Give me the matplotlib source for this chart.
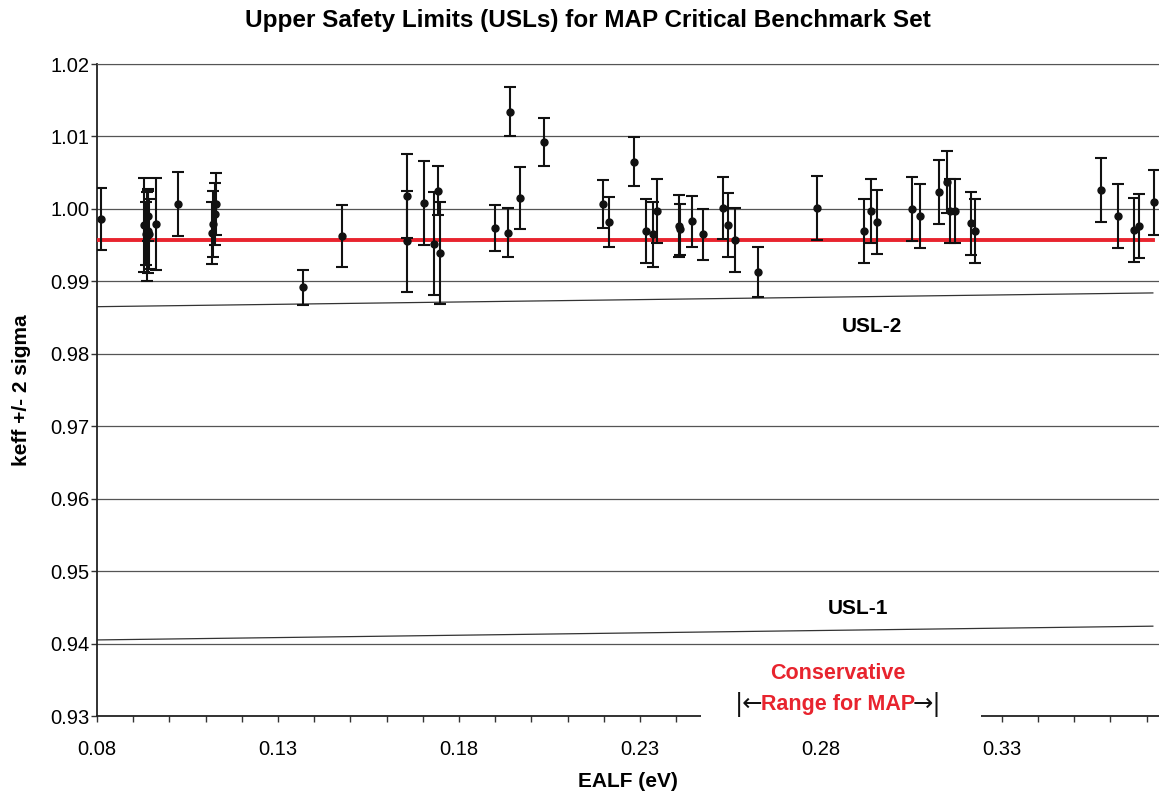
#!/usr/bin/env python3

import numpy as np
import matplotlib
matplotlib.use("Agg")
import matplotlib.pyplot as plt
from matplotlib.ticker import FixedLocator, MultipleLocator, FormatStrFormatter
from matplotlib.patches import Rectangle
import matplotlib.transforms as mtransforms

plt.rcParams["font.family"] = ["Liberation Sans", "DejaVu Sans"]

# benchmark results (EALF in eV, keff, 2 sigma)
ealf = [0.0811, 0.0930, 0.0935, 0.0938, 0.0940, 0.0942, 0.0944, 0.0963, 0.1024,
        0.1118, 0.1121, 0.1127, 0.1129, 0.1369, 0.1477, 0.1656, 0.1656, 0.1703,
        0.1731, 0.1742, 0.1748, 0.1899, 0.1935, 0.1941, 0.1969, 0.2035, 0.2198,
        0.2214, 0.2283, 0.2317, 0.2336, 0.2347, 0.2408, 0.2410, 0.2444, 0.2474,
        0.2529, 0.2543, 0.2562, 0.2626, 0.2789, 0.2919, 0.2938, 0.2955, 0.3051,
        0.3073, 0.3126, 0.3148, 0.3156, 0.3170, 0.3214, 0.3225, 0.3573, 0.3620,
        0.3665, 0.3678, 0.3720]
keff = [0.9986, 0.9978, 0.9966, 0.9962, 0.9990, 0.9970, 0.9965, 0.9979, 1.0007,
        0.9967, 0.9979, 0.9993, 1.0007, 0.9892, 0.9963, 1.0018, 0.9955, 1.0008,
        0.9952, 1.0025, 0.9939, 0.9974, 0.9967, 1.0134, 1.0015, 1.0092, 1.0007,
        0.9982, 1.0065, 0.9969, 0.9965, 0.9997, 0.9976, 0.9972, 0.9983, 0.9965,
        1.0001, 0.9978, 0.9957, 0.9913, 1.0001, 0.9969, 0.9997, 0.9982, 1.0000,
        0.9990, 1.0023, 1.0037, 0.9997, 0.9997, 0.9980, 0.9969, 1.0026, 0.9990,
        0.9971, 0.9976, 1.0009]
two_sigma = [0.0043, 0.0065, 0.0043, 0.0061, 0.0035, 0.0058, 0.0048, 0.0064, 0.0044,
             0.0043, 0.0046, 0.0043, 0.0043, 0.0024, 0.0043, 0.0058, 0.0070, 0.0058,
             0.0071, 0.0034, 0.0070, 0.0032, 0.0034, 0.0034, 0.0043, 0.0033, 0.0033,
             0.0035, 0.0034, 0.0044, 0.0045, 0.0044, 0.0043, 0.0035, 0.0035, 0.0035,
             0.0043, 0.0044, 0.0044, 0.0035, 0.0044, 0.0044, 0.0044, 0.0044, 0.0044,
             0.0044, 0.0044, 0.0043, 0.0044, 0.0044, 0.0044, 0.0044, 0.0044, 0.0044,
             0.0044, 0.0044, 0.0045]

# limit lines
line_x = [0.08, 0.3717]
mean_keff = [0.9957, 0.9957]
usl2 = [0.9865, 0.9884]
usl1 = [0.9405, 0.9424]

# MAP range
map_range = [0.2468, 0.3242]

x_ticks = [0.08, 0.13, 0.18, 0.23, 0.28, 0.33]
y_ticks = [0.93, 0.94, 0.95, 0.96, 0.97, 0.98, 0.99, 1.00, 1.01, 1.02]

RED = "#e8242e"

fig = plt.figure(figsize=(11.59, 7.98), dpi=100)
ax = fig.add_axes([97 / 1159, 1 - 716 / 798, 1 - 97 / 1159, (716 - 64) / 798])

ax.set_xlim(0.08, 0.3734)
ax.set_ylim(0.93, 1.02)

ax.yaxis.set_major_locator(FixedLocator(y_ticks))
ax.yaxis.set_major_formatter(FormatStrFormatter("%.2f"))
ax.xaxis.set_major_locator(FixedLocator(x_ticks))
ax.xaxis.set_minor_locator(MultipleLocator(0.01))
ax.xaxis.set_major_formatter(FormatStrFormatter("%.2f"))
ax.grid(which="major", axis="y", color="#555555", linewidth=0.9, zorder=0)

ax.tick_params(axis="both", which="both", direction="out", length=4,
               width=1.0, color="#333333", labelsize=14.5)
ax.tick_params(axis="x", pad=13)
ax.tick_params(axis="y", pad=1.5)

ax.spines["left"].set_color("#222222")
ax.spines["left"].set_linewidth(1.3)
ax.spines["bottom"].set_color("#222222")
ax.spines["bottom"].set_linewidth(1.3)
ax.spines["top"].set_color("#555555")
ax.spines["right"].set_visible(False)

ax.plot(line_x, usl2, color="#333333", linewidth=0.9, zorder=2)
ax.plot(line_x, usl1, color="#333333", linewidth=0.9, zorder=2)
ax.plot(line_x, mean_keff, color=RED, linewidth=2.8, zorder=3)

ax.errorbar(ealf, keff, yerr=two_sigma, fmt="o", color="#111111",
            markersize=5, elinewidth=1.5, capsize=4.5, capthick=1.5, zorder=4)

# white gap in the x axis where the MAP range label sits
trans = mtransforms.blended_transform_factory(ax.transData, ax.transAxes)
ax.add_patch(Rectangle((map_range[0], -0.03), map_range[1] - map_range[0], 0.035,
                       transform=trans, facecolor="white", edgecolor="none",
                       clip_on=False, zorder=5))

ax.text(0.2941, 0.98383, "USL-2", ha="center", va="center",
        fontsize=15, fontweight="bold", zorder=6)
ax.text(0.2902, 0.9449, "USL-1", ha="center", va="center",
        fontsize=15, fontweight="bold", zorder=6)
ax.text(0.2847, 0.9359, "Conservative", ha="center", va="center",
        fontsize=15.5, fontweight="bold", color=RED, zorder=6)
ax.text(0.2847, 0.93165, "Range for MAP", ha="center", va="center",
        fontsize=15.5, fontweight="bold", color=RED, zorder=6)
ax.text(0.2640, 0.93165, "|\u2190", ha="right", va="center",
        fontsize=17.5, color="#111111", family="DejaVu Sans", zorder=6)
ax.text(0.3054, 0.93165, "\u2192|", ha="left", va="center",
        fontsize=17.5, color="#111111", family="DejaVu Sans", zorder=6)

ax.set_xlabel("EALF (eV)", fontsize=15, fontweight="bold")
ax.xaxis.set_label_coords(0.5, -0.086)
ax.set_ylabel("keff +/- 2 sigma", fontsize=15, fontweight="bold")
ax.yaxis.set_label_coords(-0.062, 0.5)
fig.text(588 / 1159, 1 - 20 / 798, "Upper Safety Limits (USLs) for MAP Critical Benchmark Set",
         ha="center", va="center", fontsize=17.5, fontweight="bold")

fig.savefig("out.png", dpi=100)
